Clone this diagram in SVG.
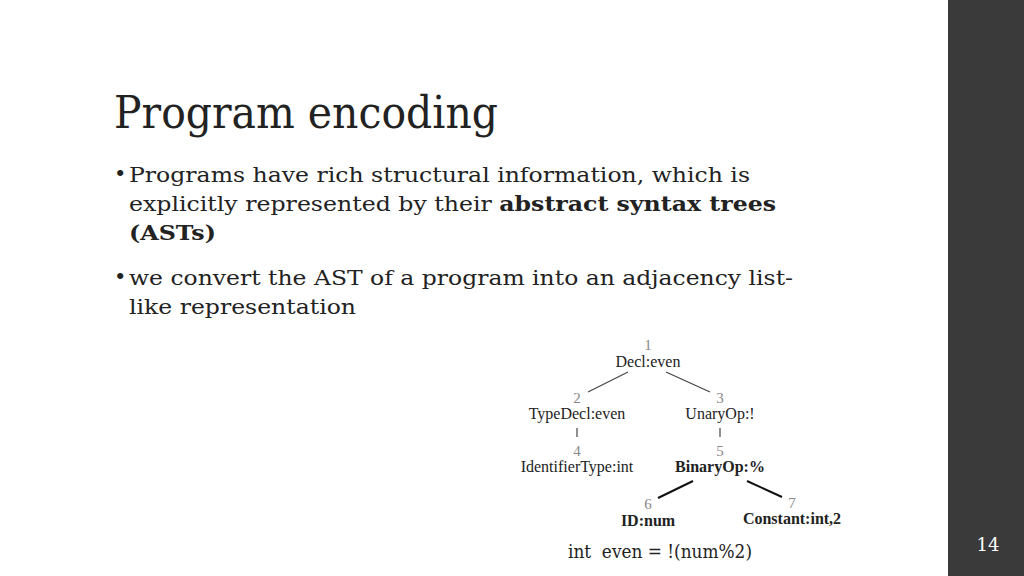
<svg xmlns="http://www.w3.org/2000/svg" width="1024" height="576" viewBox="0 0 1024 576">
<style>
.t{font-family:"DejaVu Serif",serif;fill:#222}
.b{font-family:"DejaVu Serif",serif;font-size:21px;fill:#222}
.n{font-family:"Liberation Serif",serif;font-size:16px;fill:#222;text-anchor:middle}
.num{font-family:"Liberation Serif",serif;font-size:15px;fill:#888;text-anchor:middle}
.bold{font-weight:bold}
.e{stroke:#444;stroke-width:1.2}
.eb{stroke:#111;stroke-width:2}
</style>
<rect width="1024" height="576" fill="#fff"/>
<rect x="948" y="0" width="76" height="576" fill="#3a3a3a"/>
<text x="988" y="551" font-family="DejaVu Serif,serif" font-size="18" fill="#fff" text-anchor="middle">14</text>
<text class="t" x="114" y="128" font-size="44" textLength="384" lengthAdjust="spacingAndGlyphs">Program encoding</text>
<g id="bullets">
<text class="b" x="114" y="181" font-size="12" fill="#555">•</text>
<text class="b" x="129" y="182" textLength="621" lengthAdjust="spacingAndGlyphs">Programs have rich structural information, which is</text>
<text class="b" x="129" y="211" textLength="647" lengthAdjust="spacingAndGlyphs">explicitly represented by their <tspan font-weight="bold">abstract syntax trees</tspan></text>
<text class="b" x="129" y="240" font-weight="bold" textLength="87" lengthAdjust="spacingAndGlyphs">(ASTs)</text>
<text class="b" x="114" y="284" font-size="12" fill="#555">•</text>
<text class="b" x="129" y="285" textLength="664" lengthAdjust="spacingAndGlyphs">we convert the AST of a program into an adjacency list-</text>
<text class="b" x="129" y="314" textLength="227" lengthAdjust="spacingAndGlyphs">like representation</text>
</g>
<g id="connectors">
<line class="e" x1="628" y1="372" x2="588" y2="392"/>
<line class="e" x1="666" y1="372" x2="710" y2="392"/>
<line class="e" x1="577" y1="428" x2="577" y2="437"/>
<line class="e" x1="720" y1="428" x2="720" y2="437"/>
<line class="eb" x1="693" y1="481" x2="658" y2="498"/>
<line class="eb" x1="747" y1="481" x2="782" y2="497"/>
</g>
<g id="n1"><text class="num" x="648" y="350">1</text><text class="n" x="648" y="367">Decl:even</text></g>
<g id="n2"><text class="num" x="577" y="403">2</text><text class="n" x="577" y="419">TypeDecl:even</text></g>
<g id="n3"><text class="num" x="720" y="403">3</text><text class="n" x="720" y="419">UnaryOp:!</text></g>
<g id="n4"><text class="num" x="577" y="456">4</text><text class="n" x="577" y="472">IdentifierType:int</text></g>
<g id="n5"><text class="num" x="720" y="456">5</text><text class="n bold" x="720" y="472">BinaryOp:%</text></g>
<g id="n6"><text class="num" x="648" y="509">6</text><text class="n bold" x="648" y="526">ID:num</text></g>
<g id="n7"><text class="num" x="792" y="508">7</text><text class="n bold" x="792" y="524">Constant:int,2</text></g>
<text class="t" x="568" y="558" font-family="Liberation Serif,serif" font-size="18" textLength="184" lengthAdjust="spacingAndGlyphs" xml:space="preserve">int  even = !(num%2)</text>
</svg>
